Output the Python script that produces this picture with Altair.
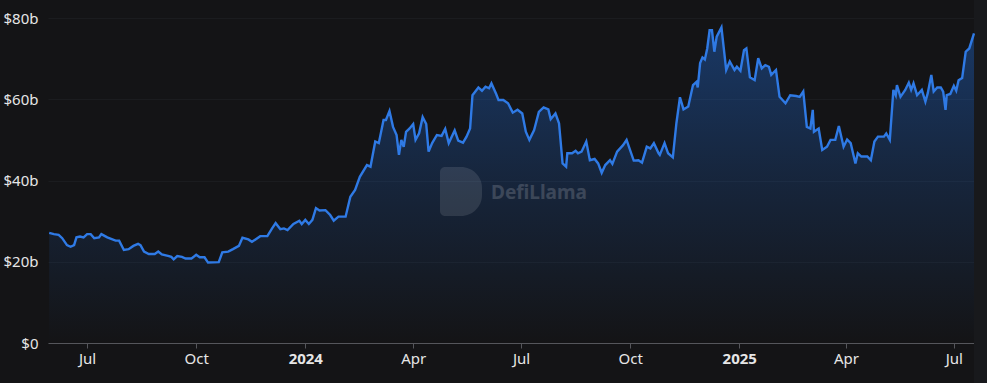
import altair as alt
import pandas as pd

START = "2023-05-30"

# days since START, TVL in $ billions
days = [0,4,8,11,15,18,21,23,26,29,32,35,38,42,44,49,56,59,63,67,71,75,77,80,84,89,92,95,101,103,
        105,108,112,115,120,124,127,131,134,143,146,151,155,160,163,168,171,174,178,184,188,191,195,198,201,206,211,213,216,219,
        222,225,228,233,237,
        240,244,250,254,258,262,268,271,275,278,282,284,287,290,293,295,297,299,301,304,
        307,309,312,315,318,320,323,327,331,334,337,342,345,349,352,355,357,362,365,368,
        371,373,377,379,383,387,391,395,399,402,405,409,413,417,421,423,427,430,433,436,
        437,441,444,446,449,453,456,460,463,466,469,473,475,479,484,487,489,493,497,500,
        504,507,510,514,
        515,519,522,526,529,532,535,539,543,546,547,549,551,553,555,557,559,561,563,567,
        571,574,578,580,583,586,588,591,595,598,601,604,607,609,613,616,621,625,630,633,
        636,639,642,644,645,649,652,656,659,663,666,670,673,676,680,682,685,690,693,696,
        699,704,706,709,712,714,715,718,722,725,727,729,732,736,739,741,744,746,749,752,
        754,756,757,760,763,765,767,770,773,776,780]
tvl = [27.1,26.8,26.6,25.8,24.1,23.7,24.1,26.0,26.2,26.0,26.8,26.8,25.8,26.0,26.8,26.0,25.2,25.2,22.9,23.1,
       23.9,24.4,24.1,22.5,21.9,21.9,22.5,21.8,21.4,21.2,20.6,21.4,21.2,20.8,20.8,21.7,21.1,21.1,19.8,19.9,
       22.3,22.5,23.1,23.9,25.9,25.5,24.9,25.5,26.3,26.3,28.2,29.5,28.0,28.2,27.8,29.3,30.1,29.3,30.3,29.3,
       30.3,33.2,32.6,32.7,31.5,
       30.1,31.1,31.1,36.0,37.7,40.9,43.8,43.4,49.6,49.2,54.9,54.9,57.1,53.2,51.2,46.3,50.0,48.3,52.0,52.8,
       53.9,50.0,51.6,55.6,53.9,47.1,49.2,51.2,51.0,52.7,49.2,52.3,49.8,49.3,50.8,52.8,61.0,62.9,62.1,63.1,
       62.7,63.9,61.3,59.8,59.8,59.0,56.7,57.4,56.5,52.0,50.0,52.4,56.9,58.0,57.5,55.1,56.5,54.1,44.2,43.4,
       46.7,46.7,47.3,46.7,47.1,49.6,45.0,45.3,44.2,41.9,43.8,45.0,44.1,47.1,48.7,50.0,48.3,44.9,45.0,44.4,
       48.3,47.9,49.2,46.7,
       46.3,49.2,46.7,45.7,54.1,60.5,57.5,58.2,63.5,64.3,62.9,68.9,70.3,69.8,72.5,77.0,77.0,71.7,75.4,77.7,
       67.2,69.3,67.2,68.0,67.0,72.1,72.5,65.4,64.7,70.1,67.6,68.4,68.0,66.0,67.2,60.6,59.0,61.0,60.8,60.6,
       61.9,53.2,52.8,57.4,52.0,52.8,47.5,48.3,50.0,50.0,53.4,48.3,50.1,49.2,44.2,46.7,45.9,45.9,45.0,49.6,
       50.8,50.8,51.6,50.0,62.3,61.0,63.5,60.6,62.3,64.1,62.3,63.9,61.0,62.3,59.4,61.5,66.0,61.9,62.9,62.9,
       61.9,57.4,61.0,61.3,63.3,62.1,64.7,65.2,71.7,72.5,76.2]

tick_dates = ["2023-07-01", "2023-10-01", "2024-01-01", "2024-04-01", "2024-07-01",
              "2024-10-01", "2025-01-01", "2025-04-01", "2025-07-01"]
y_ticks = [0, 20, 40, 60, 80]

dates = pd.to_datetime(START) + pd.to_timedelta(days, unit="D")
df = pd.DataFrame({"date": dates.strftime("%Y-%m-%dT00:00:00"), "tvl": tvl})

BG = "#141416"
LINE = "#2f7ae5"
FONT = "Noto Sans"

tick_vals = [alt.DateTime(year=int(d[:4]), month=int(d[5:7]), date=int(d[8:])) for d in tick_dates]

x = alt.X("date:T",
          scale=alt.Scale(domain=[alt.DateTime(year=2023, month=5, date=29),
                                  alt.DateTime(year=2025, month=7, date=18)]),
          axis=alt.Axis(values=tick_vals, grid=False, title=None,
                        labelExpr="month(datum.value) == 0 ? timeFormat(datum.value, '%Y') : timeFormat(datum.value, '%b')",
                        labelFontWeight={"condition": {"test": "month(datum.value) == 0", "value": "bold"}, "value": "normal"},
                        domainColor="#55565b", tickColor="#55565b", tickSize=5,
                        labelPadding=3, labelColor="#e6e6e6", labelFontSize=15, labelFont=FONT))
y = alt.Y("tvl:Q",
          scale=alt.Scale(domain=[0, 80], nice=False),
          axis=alt.Axis(values=y_ticks, title=None, domain=False, ticks=False,
                        labelExpr="datum.value == 0 ? '$0' : '$' + datum.value + 'b'",
                        labelPadding=10, labelColor="#e6e6e6", labelFontSize=15, labelFont=FONT,
                        gridColor="#1b1c1f", gridWidth=1))

area = alt.Chart(df).mark_area(
    line={"color": LINE, "strokeWidth": 2.4},
    color=alt.Gradient(gradient="linear",
                       stops=[alt.GradientStop(color="rgba(33,114,229,0.0)", offset=0),
                              alt.GradientStop(color="rgba(33,114,229,0.28)", offset=0.55),
                              alt.GradientStop(color="rgba(33,114,229,0.55)", offset=1)],
                       x1=1, x2=1, y1=1, y2=0),
    interpolate="linear",
).encode(x=x, y=y)

one = pd.DataFrame({"t": ["DefiLlama"]})
strip = alt.Chart(one).mark_rect(color="#18191c").encode(
    x=alt.value(926), x2=alt.value(940), y=alt.value(-18), y2=alt.value(365))
logo = alt.Chart(one).mark_rect(
    color="white", opacity=0.11,
    cornerRadiusTopLeft=5, cornerRadiusBottomLeft=5,
    cornerRadiusTopRight=22, cornerRadiusBottomRight=22,
).encode(x=alt.value(392), x2=alt.value(434), y=alt.value(149), y2=alt.value(198))
wm = alt.Chart(one).mark_text(
    color="white", opacity=0.16, fontSize=19, fontWeight="bold", font=FONT, align="left", baseline="middle"
).encode(x=alt.value(443), y=alt.value(175), text="t:N")

chart = alt.layer(strip, area, logo, wm).properties(
    width=926, height=325,
    background=BG,
    padding={"left": 48, "top": 18, "right": 13, "bottom": 40},
    autosize=alt.AutoSizeParams(type="none"),
).configure_view(stroke=None)

chart.save("out.html", embed_options={"renderer": "svg", "actions": False})
